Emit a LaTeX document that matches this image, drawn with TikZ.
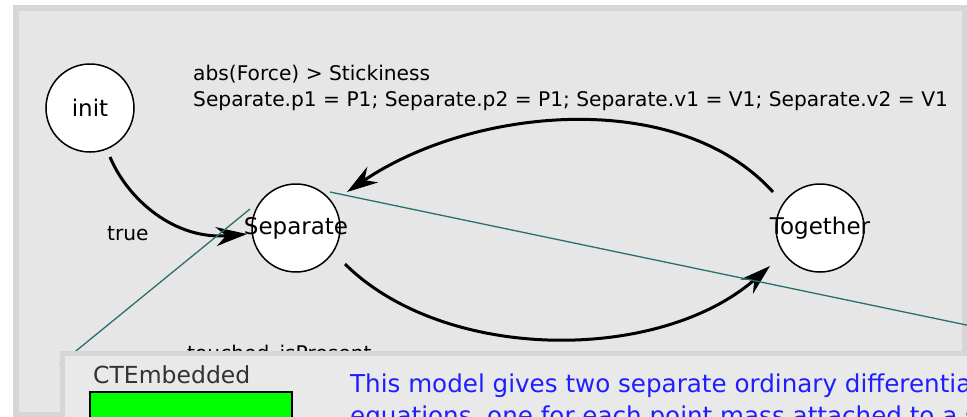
\documentclass[tikz,border=0pt]{standalone}
\usepackage{fontspec}
\setmainfont{DejaVu Sans}
\usetikzlibrary{arrows.meta,calc}

\definecolor{framegray}{RGB}{214,214,214}
\definecolor{panelgray}{RGB}{230,230,230}
\definecolor{embedgray}{RGB}{233,233,233}
\definecolor{linkteal}{RGB}{42,110,110}
\definecolor{notegreen}{RGB}{0,255,0}
\definecolor{noteblue}{RGB}{30,30,255}
\definecolor{titlegray}{RGB}{50,50,50}

\begin{document}
\begin{tikzpicture}[x=1pt,y=-1pt,
  state/.style={circle,draw=black,line width=1.5pt,fill=white,minimum size=88pt,inner sep=0pt},
  statename/.style={font=\fontsize{23}{23}\selectfont,inner sep=0pt},
  guard/.style={font=\fontsize{20.2}{20}\selectfont,inner sep=0pt,anchor=base west},
  trans/.style={line width=3pt,-{Stealth[length=31pt,width=19pt,inset=10pt]}},
  link/.style={linkteal,line width=1.3pt},
  notetext/.style={font=\fontsize{24.6}{31}\selectfont,text=noteblue,anchor=base west,inner sep=0pt}]
\useasboundingbox (0,0) rectangle (967,416);
\clip (0,0) rectangle (967,416);

% main editor window
\fill[framegray] (13,5) rectangle (980,430);
\fill[panelgray] (19,11) rectangle (962,412);

% states
\node[state,label={[statename]center:init}] (init) at (90,108) {};
\node[state,label={[statename]center:Separate}] (sep) at (296,228) {};
\node[state,label={[statename]center:Together}] (tog) at (820,228) {};

% guards and actions
\node[guard] (g1) at (193,80) {abs(Force) > Stickiness};
\node[guard] (g2) at (193,106) {Separate.p1 = P1; Separate.p2 = P1; Separate.v1 = V1; Separate.v2 = V1};
\node[guard] (g3) at (107,240.5) {true};
\node[guard] (g4) at (187,360) {touched\_isPresent};

% transitions
\draw[trans] ($(init)+(20,49)$) .. controls +(18,43) and +(-72,6) .. ($(sep)+(-49,6)$);
\draw[trans] ($(tog)+(-47,-36)$) .. controls +(-95,-105) and +(125,-85) .. ($(sep)+(51,-36)$);
\draw[trans] ($(sep)+(49,36)$) .. controls +(100,99) and +(-110,97) .. ($(tog)+(-50,38)$);

% links to the embedded window
\coordinate (linkleft) at (60,364);
\coordinate (linkright) at (1000,332);
\draw[link] ($(sep)+(-46,-19)$) -- (linkleft);
\draw[link] ($(sep)+(34,-36)$) -- (linkright);

% embedded window
\fill[framegray] (60,351) rectangle (980,430);
\fill[embedgray] (65,356) rectangle (980,430);
\node[font=\fontsize{23.5}{24}\selectfont,text=titlegray,anchor=base west,inner sep=0pt] (cttitle) at (93,383) {CTEmbedded};
\node[draw=black,line width=1.5pt,fill=notegreen,minimum width=202pt,minimum height=40pt,anchor=north west,inner sep=0pt] (ctbox) at (89,391) {};
\node[notetext] (note1) at (350,392) {This model gives two separate ordinary differential};
\node[notetext] (note2) at (350,424) {equations, one for each point mass attached to a spring.};
\end{tikzpicture}
\end{document}
